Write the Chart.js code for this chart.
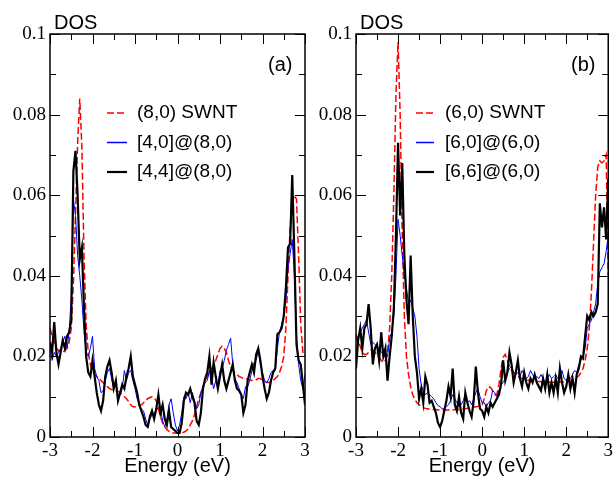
<!DOCTYPE html>
<html>
<head>
<meta charset="utf-8">
<script src="https://cdn.jsdelivr.net/npm/chart.js@4.4.1/dist/chart.umd.min.js"></script>
<style>
  body { margin: 0; background: #fff; }
  .wrap { position: relative; width: 616px; height: 478px; overflow: hidden; }
  .wrap canvas { position: absolute; left: 0; top: 0; }
</style>
</head>
<body>
<div class="wrap">
  <canvas id="panelA" width="616" height="478"></canvas>
  <canvas id="panelB" width="616" height="478"></canvas>
</div>
<script>
// energy grid (eV), shared by every curve
const energy = [
  -3, -2.95, -2.9, -2.85, -2.8, -2.75, -2.7, -2.65, -2.6, -2.55,
  -2.5, -2.45, -2.4, -2.35, -2.3, -2.25, -2.2, -2.15, -2.1, -2.05,
  -2, -1.95, -1.9, -1.85, -1.8, -1.75, -1.7, -1.65, -1.6, -1.55,
  -1.5, -1.45, -1.4, -1.35, -1.3, -1.25, -1.2, -1.15, -1.1, -1.05,
  -1, -0.95, -0.9, -0.85, -0.8, -0.75, -0.7, -0.65, -0.6, -0.55,
  -0.5, -0.45, -0.4, -0.35, -0.3, -0.25, -0.2, -0.15, -0.1, -0.05,
  0, 0.05, 0.1, 0.15, 0.2, 0.25, 0.3, 0.35, 0.4, 0.45,
  0.5, 0.55, 0.6, 0.65, 0.7, 0.75, 0.8, 0.85, 0.9, 0.95,
  1, 1.05, 1.1, 1.15, 1.2, 1.25, 1.3, 1.35, 1.4, 1.45,
  1.5, 1.55, 1.6, 1.65, 1.7, 1.75, 1.8, 1.85, 1.9, 1.95,
  2, 2.05, 2.1, 2.15, 2.2, 2.25, 2.3, 2.35, 2.4, 2.45,
  2.5, 2.55, 2.6, 2.65, 2.7, 2.75, 2.8, 2.85, 2.9, 2.95,
  3
];

// panel (a)
const labelsA = ['(8,0) SWNT', '[4,0]@(8,0)', '[4,4]@(8,0)'];
const swnt80 = [
  0.027, 0.025, 0.024, 0.022, 0.0215, 0.021, 0.021, 0.0215, 0.022, 0.0235,
  0.027, 0.038, 0.055, 0.073, 0.084, 0.072, 0.045, 0.028, 0.021, 0.018,
  0.0165, 0.0155, 0.015, 0.0145, 0.014, 0.0135, 0.013, 0.0125, 0.012, 0.0118,
  0.0116, 0.0115, 0.0113, 0.011, 0.0105, 0.010, 0.0095, 0.0088, 0.008, 0.0075,
  0.0075, 0.0075, 0.0078, 0.008, 0.0085, 0.009, 0.0095, 0.0098, 0.0100, 0.0098,
  0.009, 0.007, 0.005, 0.0035, 0.0025, 0.0018, 0.0014, 0.0012, 0.001, 0.001,
  0.001, 0.001, 0.0011, 0.0012, 0.0015, 0.002, 0.003, 0.004, 0.0055, 0.0075,
  0.0095, 0.011, 0.0125, 0.014, 0.015, 0.016, 0.017, 0.0178, 0.019, 0.0205,
  0.022, 0.0225, 0.022, 0.021, 0.019, 0.0175, 0.0165, 0.016, 0.0155, 0.015,
  0.0148, 0.0145, 0.0145, 0.0143, 0.0142, 0.014, 0.014, 0.0142, 0.0145, 0.0145,
  0.014, 0.0138, 0.0135, 0.0135, 0.0138, 0.014, 0.0145, 0.015, 0.016, 0.0175,
  0.020, 0.027, 0.040, 0.052, 0.058, 0.060, 0.059, 0.045, 0.028, 0.021,
  0.020
];
const tube40in80 = [
  0.022, 0.019, 0.021, 0.020, 0.021, 0.022, 0.0235, 0.025, 0.022, 0.026,
  0.035, 0.059, 0.055, 0.045, 0.040, 0.034, 0.026, 0.021, 0.020, 0.022,
  0.025, 0.017, 0.015, 0.014, 0.011, 0.0115, 0.014, 0.016, 0.017, 0.0145,
  0.012, 0.0135, 0.010, 0.0105, 0.012, 0.0165, 0.014, 0.016, 0.0165, 0.014,
  0.012, 0.0095, 0.008, 0.007, 0.0065, 0.0045, 0.003, 0.0045, 0.0055, 0.006,
  0.0065, 0.0075, 0.007, 0.004, 0.0025, 0.0045, 0.008, 0.0095, 0.006, 0.003,
  0.0015, 0.003, 0.006, 0.010, 0.0095, 0.011, 0.0085, 0.011, 0.009, 0.007,
  0.008, 0.011, 0.0125, 0.0135, 0.014, 0.0165, 0.015, 0.012, 0.014, 0.013,
  0.0165, 0.017, 0.019, 0.0215, 0.023, 0.0245, 0.018, 0.0145, 0.0135, 0.012,
  0.0105, 0.0095, 0.0125, 0.0125, 0.014, 0.0165, 0.0185, 0.019, 0.0215, 0.018,
  0.016, 0.014, 0.0135, 0.0145, 0.016, 0.0165, 0.0165, 0.022, 0.026, 0.028,
  0.030, 0.034, 0.042, 0.0455, 0.049, 0.040, 0.025, 0.018, 0.014, 0.012,
  0.0155
];
const tube44in80 = [
  0.0235, 0.021, 0.0285, 0.021, 0.018, 0.021, 0.024, 0.022, 0.025, 0.026,
  0.029, 0.066, 0.071, 0.060, 0.044, 0.047, 0.032, 0.020, 0.016, 0.015,
  0.019, 0.015, 0.011, 0.008, 0.0065, 0.009, 0.015, 0.0175, 0.019, 0.016,
  0.012, 0.014, 0.009, 0.011, 0.013, 0.012, 0.015, 0.017, 0.020, 0.015,
  0.013, 0.011, 0.008, 0.0065, 0.005, 0.003, 0.0025, 0.005, 0.0065, 0.0045,
  0.007, 0.0105, 0.006, 0.008, 0.0045, 0.003, 0.0065, 0.0025, 0.002, 0.0015,
  0.001, 0.001, 0.0035, 0.009, 0.011, 0.0105, 0.012, 0.010, 0.0085, 0.004,
  0.003, 0.006, 0.012, 0.0145, 0.016, 0.020, 0.013, 0.0185, 0.015, 0.012,
  0.015, 0.018, 0.014, 0.012, 0.014, 0.016, 0.018, 0.014, 0.012, 0.0115,
  0.0105, 0.006, 0.008, 0.014, 0.016, 0.018, 0.016, 0.0205, 0.022, 0.019,
  0.015, 0.012, 0.0095, 0.011, 0.014, 0.016, 0.017, 0.0255, 0.026, 0.027,
  0.030, 0.037, 0.047, 0.048, 0.065, 0.045, 0.023, 0.019, 0.018, 0.013,
  0.008
];

// panel (b)
const labelsB = ['(6,0) SWNT', '[6,0]@(6,0)', '[6,6]@(6,0)'];
const swnt60 = [
  0.0255, 0.024, 0.0225, 0.021, 0.0205, 0.0205, 0.021, 0.0215, 0.0215, 0.021,
  0.0205, 0.0198, 0.019, 0.0185, 0.019, 0.021, 0.027, 0.040, 0.060, 0.085,
  0.098, 0.080, 0.050, 0.030, 0.020, 0.0155, 0.0125, 0.0105, 0.0093, 0.0085,
  0.008, 0.0076, 0.0073, 0.0071, 0.007, 0.0069, 0.0069, 0.0068, 0.0068, 0.0067,
  0.0067, 0.0067, 0.0067, 0.0067, 0.0067, 0.0067, 0.0067, 0.0068, 0.0068, 0.0068,
  0.0069, 0.007, 0.007, 0.0071, 0.0072, 0.0073, 0.0074, 0.0075, 0.0076, 0.0078,
  0.008, 0.0095, 0.0115, 0.0125, 0.0123, 0.0115, 0.0105, 0.0105, 0.013, 0.017,
  0.0198, 0.0205, 0.019, 0.0175, 0.0165, 0.016, 0.0155, 0.015, 0.0147, 0.0145,
  0.0143, 0.0142, 0.0141, 0.014, 0.014, 0.0139, 0.0138, 0.0138, 0.0137, 0.0137,
  0.0137, 0.0136, 0.0136, 0.0136, 0.0136, 0.0136, 0.0136, 0.0136, 0.0137, 0.0137,
  0.0138, 0.0139, 0.014, 0.0142, 0.0145, 0.0148, 0.0152, 0.016, 0.017, 0.019,
  0.022, 0.027, 0.036, 0.048, 0.060, 0.067, 0.0685, 0.068, 0.0685, 0.070,
  0.040
];
const tube60in60 = [
  0.024, 0.025, 0.026, 0.027, 0.028, 0.029, 0.026, 0.023, 0.0235, 0.023,
  0.0225, 0.022, 0.021, 0.021, 0.0195, 0.020, 0.0245, 0.026, 0.030, 0.040,
  0.054, 0.050, 0.045, 0.040, 0.037, 0.033, 0.034, 0.032, 0.030, 0.025,
  0.017, 0.013, 0.0115, 0.0105, 0.011, 0.0105, 0.010, 0.0095, 0.0085, 0.0078,
  0.0075, 0.007, 0.007, 0.0075, 0.008, 0.009, 0.0105, 0.0095, 0.0085, 0.0075,
  0.008, 0.009, 0.0105, 0.0085, 0.009, 0.008, 0.0095, 0.011, 0.012, 0.010,
  0.0085, 0.0085, 0.0075, 0.0085, 0.009, 0.0115, 0.011, 0.010, 0.0115, 0.013,
  0.0135, 0.0145, 0.016, 0.017, 0.0175, 0.016, 0.0155, 0.016, 0.015, 0.0165,
  0.0155, 0.0145, 0.015, 0.0165, 0.0155, 0.0145, 0.015, 0.0145, 0.0155, 0.0145,
  0.0135, 0.0145, 0.0155, 0.0145, 0.015, 0.0155, 0.0145, 0.015, 0.0165, 0.0145,
  0.014, 0.015, 0.0145, 0.0155, 0.0165, 0.016, 0.018, 0.019, 0.020, 0.022,
  0.027, 0.028, 0.029, 0.031, 0.033, 0.038, 0.041, 0.042, 0.043, 0.046,
  0.050
];
const tube66in60 = [
  0.017, 0.024, 0.027, 0.022, 0.027, 0.028, 0.033, 0.027, 0.018, 0.022,
  0.023, 0.019, 0.026, 0.020, 0.022, 0.014, 0.020, 0.025, 0.032, 0.050,
  0.073, 0.055, 0.068, 0.045, 0.034, 0.028, 0.045, 0.030, 0.020, 0.016,
  0.0095, 0.012, 0.0085, 0.015, 0.013, 0.0085, 0.009, 0.0075, 0.006, 0.0035,
  0.0025, 0.004, 0.0065, 0.009, 0.0125, 0.010, 0.017, 0.008, 0.0065, 0.010,
  0.006, 0.0045, 0.011, 0.0085, 0.0065, 0.005, 0.009, 0.0175, 0.011, 0.007,
  0.0065, 0.005, 0.0075, 0.006, 0.0085, 0.0075, 0.0085, 0.0095, 0.0105, 0.013,
  0.019, 0.014, 0.016, 0.021, 0.018, 0.0135, 0.016, 0.019, 0.0145, 0.0125,
  0.016, 0.0135, 0.012, 0.0145, 0.0135, 0.0155, 0.0135, 0.0125, 0.0115, 0.0145,
  0.012, 0.0155, 0.011, 0.0135, 0.011, 0.0145, 0.011, 0.017, 0.0135, 0.011,
  0.0125, 0.0155, 0.012, 0.0145, 0.011, 0.0155, 0.017, 0.020, 0.0195, 0.025,
  0.030, 0.029, 0.031, 0.030, 0.031, 0.033, 0.058, 0.052, 0.057, 0.049,
  0.064
];

const sans = '"Liberation Sans", Arial, sans-serif';
const serif = '"Liberation Serif", "DejaVu Serif", "Times New Roman", serif';

function points(values) {
  return values.map((v, i) => ({ x: energy[i], y: v }));
}

// frame, inward ticks on all four sides, DOS label, panel tag and legend
const decor = {
  id: 'decor',
  afterDatasetsDraw(chart, args, opts) {
    const { ctx, chartArea: a, scales: { x, y } } = chart;
    ctx.save();
    ctx.strokeStyle = '#000';
    ctx.lineWidth = 1;
    ctx.beginPath();
    for (let k = 0; k <= 12; k++) {
      const px = Math.round(x.getPixelForValue(-3 + k * 0.5)) + 0.5;
      const len = k % 2 === 0 ? 10 : 6;
      ctx.moveTo(px, a.bottom); ctx.lineTo(px, a.bottom - len);
      ctx.moveTo(px, a.top); ctx.lineTo(px, a.top + len);
    }
    for (let k = 0; k <= 10; k++) {
      const py = Math.round(y.getPixelForValue(k * 0.01)) + 0.5;
      const len = k % 2 === 0 ? 10 : 6;
      ctx.moveTo(a.left, py); ctx.lineTo(a.left + len, py);
      ctx.moveTo(a.right, py); ctx.lineTo(a.right - len, py);
    }
    ctx.stroke();
    ctx.lineWidth = 1.5;
    ctx.strokeRect(a.left, a.top, a.right - a.left, a.bottom - a.top);

    ctx.fillStyle = '#000';
    ctx.font = `20px ${sans}`;
    ctx.textBaseline = 'alphabetic';
    ctx.textAlign = 'left';
    ctx.fillText('DOS', a.left + 4, 29);
    ctx.fillText(opts.tag, opts.tagX, 71);

    ctx.font = `19px ${sans}`;
    ctx.textBaseline = 'middle';
    chart.data.datasets.forEach((ds, i) => {
      const yy = 113 + i * 29.5;
      ctx.beginPath();
      ctx.strokeStyle = ds.borderColor;
      ctx.lineWidth = Math.max(ds.borderWidth, 1.5);
      ctx.setLineDash(ds.borderDash || []);
      ctx.moveTo(opts.lineX0, yy);
      ctx.lineTo(opts.lineX1, yy);
      ctx.stroke();
      ctx.setLineDash([]);
      ctx.fillText(ds.label, opts.textX, yy);
    });
    ctx.restore();
  }
};

function makePanel(canvasId, labels, red, blue, black, yAxisWidth, padRight, legendPos) {
  return new Chart(document.getElementById(canvasId), {
    type: 'line',
    data: {
      datasets: [
        { label: labels[0], data: points(red), borderColor: '#ff0000', borderWidth: 1.5, borderDash: [7, 3], order: 3 },
        { label: labels[1], data: points(blue), borderColor: '#0000ff', borderWidth: 1, order: 2 },
        { label: labels[2], data: points(black), borderColor: '#000000', borderWidth: 2.2, order: 1 }
      ]
    },
    options: {
      responsive: false,
      animation: false,
      devicePixelRatio: 1,
      elements: { point: { radius: 0 }, line: { tension: 0, fill: false } },
      layout: { padding: { top: 34, right: padRight, left: 0, bottom: 0 } },
      plugins: {
        legend: { display: false },
        tooltip: { enabled: false },
        decor: legendPos
      },
      scales: {
        x: {
          type: 'linear',
          min: -3,
          max: 3,
          grid: { display: false, drawTicks: false },
          border: { display: false },
          ticks: { stepSize: 1, padding: 3, color: '#000', font: { family: serif, size: 19 } },
          title: { display: true, text: 'Energy (eV)', color: '#000', font: { family: sans, size: 20 }, padding: { top: 0, bottom: 0 } },
          afterFit: (scale) => { scale.height = 41; }
        },
        y: {
          min: 0,
          max: 0.1,
          grid: { display: false, drawTicks: false },
          border: { display: false },
          ticks: {
            stepSize: 0.02,
            padding: 4,
            color: '#000',
            font: { family: serif, size: 19 },
            callback: (v) => (v === 0 ? '0' : String(+v.toFixed(2)))
          },
          afterFit: (scale) => { scale.width = yAxisWidth; }
        }
      }
    },
    plugins: [decor]
  });
}

makePanel('panelA', labelsA, swnt80, tube40in80, tube44in80, 50, 311,
  { tag: '(a)', tagX: 268, lineX0: 107, lineX1: 127, textX: 137 });
makePanel('panelB', labelsB, swnt60, tube60in60, tube66in60, 356, 5,
  { tag: '(b)', tagX: 571, lineX0: 416, lineX1: 434, textX: 445 });
</script>
</body>
</html>
